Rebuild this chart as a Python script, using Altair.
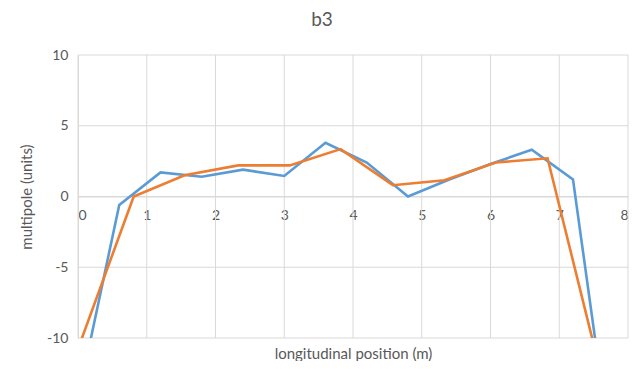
import altair as alt
import pandas as pd

# Series
blue_x = [0.0, 0.6, 1.2, 1.8, 2.4, 3.0, 3.6, 4.2, 4.8, 5.4, 6.0, 6.6, 7.2, 7.8]
blue_y = [-14.3, -0.6, 1.7, 1.4, 1.9, 1.45, 3.8, 2.4, 0.0, 1.2, 2.3, 3.3, 1.2, -19.8]
orange_x = [0.05, 0.81, 1.55, 2.33, 3.08, 3.82, 4.58, 5.33, 6.08, 6.83, 7.58]
orange_y = [-10.1, 0.0, 1.5, 2.2, 2.2, 3.35, 0.8, 1.15, 2.4, 2.7, -12.0]

x_ticks = [0, 1, 2, 3, 4, 5, 6, 7, 8]
y_ticks = [-10, -5, 0, 5, 10]

blue_df = pd.DataFrame({"x": blue_x, "y": blue_y})
orange_df = pd.DataFrame({"x": orange_x, "y": orange_y})
xgrid_df = pd.DataFrame({"x": x_ticks})
ygrid_df = pd.DataFrame({"y": y_ticks})

FONT = "Lato"
GREY = "#595959"
GRID = "#D9D9D9"
W, H = 550, 283

xscale = alt.Scale(domain=[0, 8], nice=False, zero=False)
yscale = alt.Scale(domain=[-10, 10], nice=False)

xaxis = alt.Axis(values=x_ticks, format="d", grid=False, labels=True, ticks=False,
                 domain=True, domainColor=GRID, orient="bottom",
                 offset=-H / 2, labelPadding=12, labelFont=FONT,
                 labelFontSize=14, labelColor=GREY,
                 title="longitudinal position (m)", titleFont=FONT,
                 titleFontSize=15, titleFontWeight="normal", titleColor=GREY,
                 titleY=H / 2 + 8, titleBaseline="top")

yaxis = alt.Axis(values=y_ticks, format="d", grid=False,
                 domain=True, domainColor=GRID, ticks=False,
                 labelFont=FONT, labelFontSize=14, labelColor=GREY, labelPadding=10,
                 labelExpr="replace(datum.label, '\u2212', '-')",
                 title="multipole (units)", titleFont=FONT, titleFontSize=15,
                 titleFontWeight="normal", titleColor=GREY, titlePadding=12)

vgrid = alt.Chart(xgrid_df).mark_rule(color=GRID, strokeWidth=1).encode(
    x=alt.X("x:Q", scale=xscale, axis=xaxis),
    y=alt.value(0), y2=alt.value(H),
)
hgrid = alt.Chart(ygrid_df).mark_rule(color=GRID, strokeWidth=1).encode(
    y=alt.Y("y:Q", scale=yscale, axis=yaxis),
    x=alt.value(0), x2=alt.value(W),
)

blue = alt.Chart(blue_df).mark_line(color="#5B9BD5", strokeWidth=2.6, clip=True).encode(
    x=alt.X("x:Q", scale=xscale),
    y=alt.Y("y:Q", scale=yscale),
)

orange = alt.Chart(orange_df).mark_line(color="#ED7D31", strokeWidth=2.6, clip=True).encode(
    x=alt.X("x:Q", scale=xscale),
    y=alt.Y("y:Q", scale=yscale),
)

chart = alt.layer(vgrid, hgrid, blue, orange).properties(
    width=W, height=H,
    autosize=alt.AutoSizeParams(type="none"),
    padding={"left": 70, "top": 47, "right": 8, "bottom": 23},
    title=alt.Title("b3", font=FONT, fontSize=19, fontWeight="normal",
                    color=GREY, anchor="middle", dx=-31, offset=18),
).configure_view(stroke=None)

chart.save("out.html", embed_options={"renderer": "svg", "actions": False})
